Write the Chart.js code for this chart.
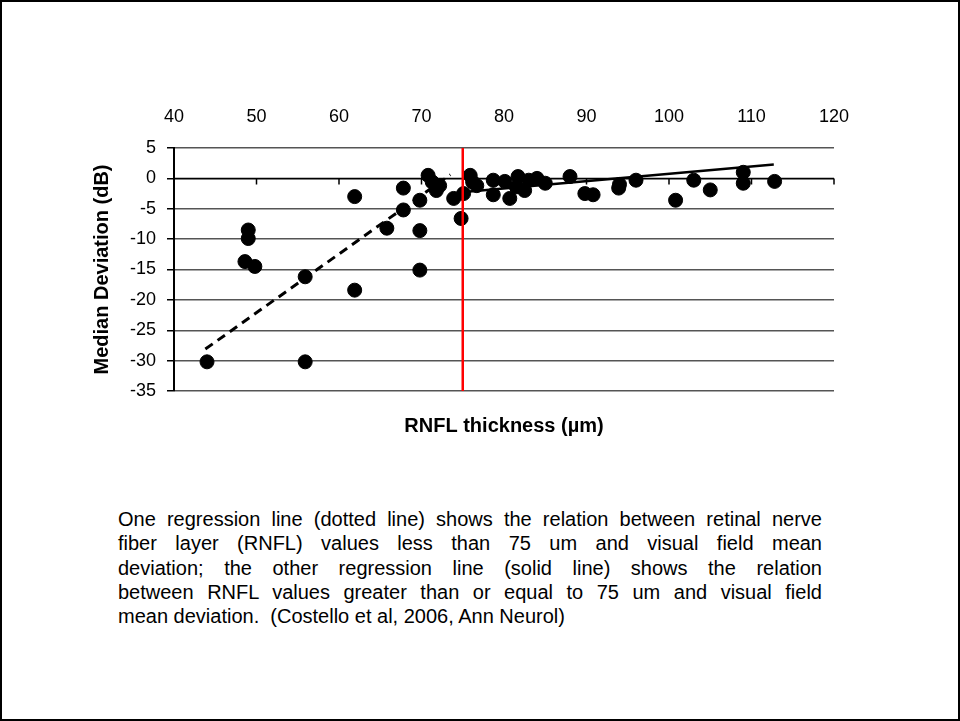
<!DOCTYPE html>
<html>
<head>
<meta charset="utf-8">
<script src="https://cdn.jsdelivr.net/npm/chart.js@4.4.1/dist/chart.umd.min.js"></script>
<style>
  html, body { margin: 0; padding: 0; background: #fff; }
  #slide { position: relative; width: 960px; height: 721px; box-sizing: border-box; border: 2px solid #000; overflow: hidden; }
  #chartBox { position: absolute; left: -2px; top: -2px; width: 960px; height: 445px; }
  #caption { position: absolute; left: 116px; top: 505px; width: 704px; margin: 0;
    font-family: "Liberation Sans", Arial, sans-serif; font-size: 20px; line-height: 24.3px; color: #000; }
  #caption span { display: block; white-space: nowrap; text-align: justify; text-align-last: justify; }
  #caption span.last { text-align: left; text-align-last: left; }
</style>
</head>
<body>
<div id="slide">
  <div id="chartBox"><canvas id="scatter"></canvas></div>
  <p id="caption"><span>One regression line (dotted line) shows the relation between retinal nerve</span>
<span>fiber layer (RNFL) values less than 75 um and visual field mean</span>
<span>deviation; the other regression line (solid line) shows the relation</span>
<span>between RNFL values greater than or equal to 75 um and visual field</span>
<span class="last">mean deviation.&nbsp; (Costello et al, 2006, Ann Neurol)</span></p>
</div>
<script>
// dati
var rnfl = [44, 49, 49, 48.6, 49.8, 55.9, 55.9, 61.9, 61.9, 65.8, 67.8, 67.8, 69.8, 69.8, 69.8,
            70.8, 71.3, 71.8, 72.2, 73.9, 74.8, 75.1, 75.9, 76.2, 76.7, 78.7, 78.7, 80.1, 80.7,
            81.5, 81.7, 83.0, 82.5, 84.0, 85.0, 88.0, 89.8, 90.8, 93.9, 94.0, 96.0, 100.8,
            103, 105, 109, 109, 112.8];
var medianDev = [-30.2, -8.5, -9.9, -13.7, -14.5, -30.2, -16.2, -3.0, -18.4, -8.2, -5.2, -1.6, -3.6, -8.6, -15.1,
                 0.5, -0.6, -2.0, -1.2, -3.3, -6.6, -2.5, 0.5, -0.6, -1.2, -0.3, -2.7, -0.5, -3.3,
                 -1.4, 0.3, -0.3, -2.0, 0, -0.8, 0.3, -2.5, -2.7, -1.6, -1.0, -0.3, -3.6,
                 -0.3, -1.9, 1.0, -0.8, -0.5];

// linee di regressione (estremi)
var dottedX = [43.8, 73.5];
var dottedY = [-28.1, 0.6];
var solidX = [75.5, 112.7];
var solidY = [-2.2, 2.3];

var cutoff = 75;
var xTicks = [40, 50, 60, 70, 80, 90, 100, 110, 120];
var yTicks = [5, 0, -5, -10, -15, -20, -25, -30, -35];

function toPoints(xs, ys) {
    return xs.map(function (x, i) { return {x: x, y: ys[i]}; });
}

// asse orizzontale a y = 0 con le tacche
var zeroAxis = {
    id: 'zeroAxis',
    beforeDatasetsDraw: function (chart) {
        var ctx = chart.ctx;
        var xs = chart.scales.x;
        var y0 = chart.scales.y.getPixelForValue(0);
        ctx.save();
        ctx.strokeStyle = '#000';
        ctx.lineWidth = 1.5;
        ctx.beginPath();
        ctx.moveTo(chart.chartArea.left, y0);
        ctx.lineTo(chart.chartArea.right, y0);
        xTicks.forEach(function (t) {
            var px = xs.getPixelForValue(t);
            ctx.moveTo(px, y0);
            ctx.lineTo(px, y0 + 6);
        });
        ctx.stroke();
        ctx.restore();
    }
};

var font = "'Liberation Sans', Arial, sans-serif";

var chart = new Chart(document.getElementById('scatter'), {
    type: 'scatter',
    data: {
        datasets: [{
            label: 'cutoff',
            data: [{x: cutoff, y: yTicks[0]}, {x: cutoff, y: yTicks[yTicks.length - 1]}],
            showLine: true,
            borderColor: '#ff0000',
            borderWidth: 2.5,
            pointRadius: 0
        }, {
            label: 'solid',
            data: toPoints(solidX, solidY),
            showLine: true,
            borderColor: '#000',
            borderWidth: 2.5,
            pointRadius: 0
        }, {
            label: 'dotted',
            data: toPoints(dottedX, dottedY),
            showLine: true,
            borderColor: '#000',
            borderWidth: 3,
            borderDash: [9, 6],
            pointRadius: 0
        }, {
            label: 'RNFL',
            data: toPoints(rnfl, medianDev),
            backgroundColor: '#000',
            borderColor: '#000',
            pointRadius: 7,
            pointHoverRadius: 7
        }]
    },
    options: {
        responsive: true,
        maintainAspectRatio: false,
        animation: false,
        events: [],
        layout: { padding: { left: 86, right: 126, top: 100, bottom: 4 } },
        plugins: { legend: { display: false }, tooltip: { enabled: false } },
        scales: {
            x: {
                type: 'linear', position: 'bottom', min: 40, max: 120,
                grid: { display: false },
                border: { display: false },
                ticks: { display: false },
                title: {
                    display: true, text: 'RNFL thickness (µm)', color: '#000',
                    font: { family: font, size: 20, weight: 'bold' },
                    padding: { top: 0, bottom: 3 }
                },
                afterFit: function (s) { s.height = 50; }
            },
            x2: {
                type: 'linear', position: 'top', min: 40, max: 120,
                grid: { display: false, drawTicks: false },
                border: { display: false },
                ticks: { stepSize: 10, padding: 20, color: '#000', font: { family: font, size: 18 } },
                afterFit: function (s) { s.height = 48; }
            },
            y: {
                type: 'linear', min: -35, max: 5,
                ticks: { stepSize: 5, padding: 11, color: '#000', font: { family: font, size: 18 } },
                grid: { color: '#555', lineWidth: 1.5, tickColor: '#000', tickLength: 7 },
                border: { color: '#000', width: 2 },
                title: {
                    display: true, text: 'Median Deviation (dB)', color: '#000',
                    font: { family: font, size: 20, weight: 'bold' },
                    padding: { top: 4, bottom: 0 }
                },
                afterFit: function (s) { s.width = 88; }
            }
        }
    },
    plugins: [zeroAxis]
});
</script>
</body>
</html>
